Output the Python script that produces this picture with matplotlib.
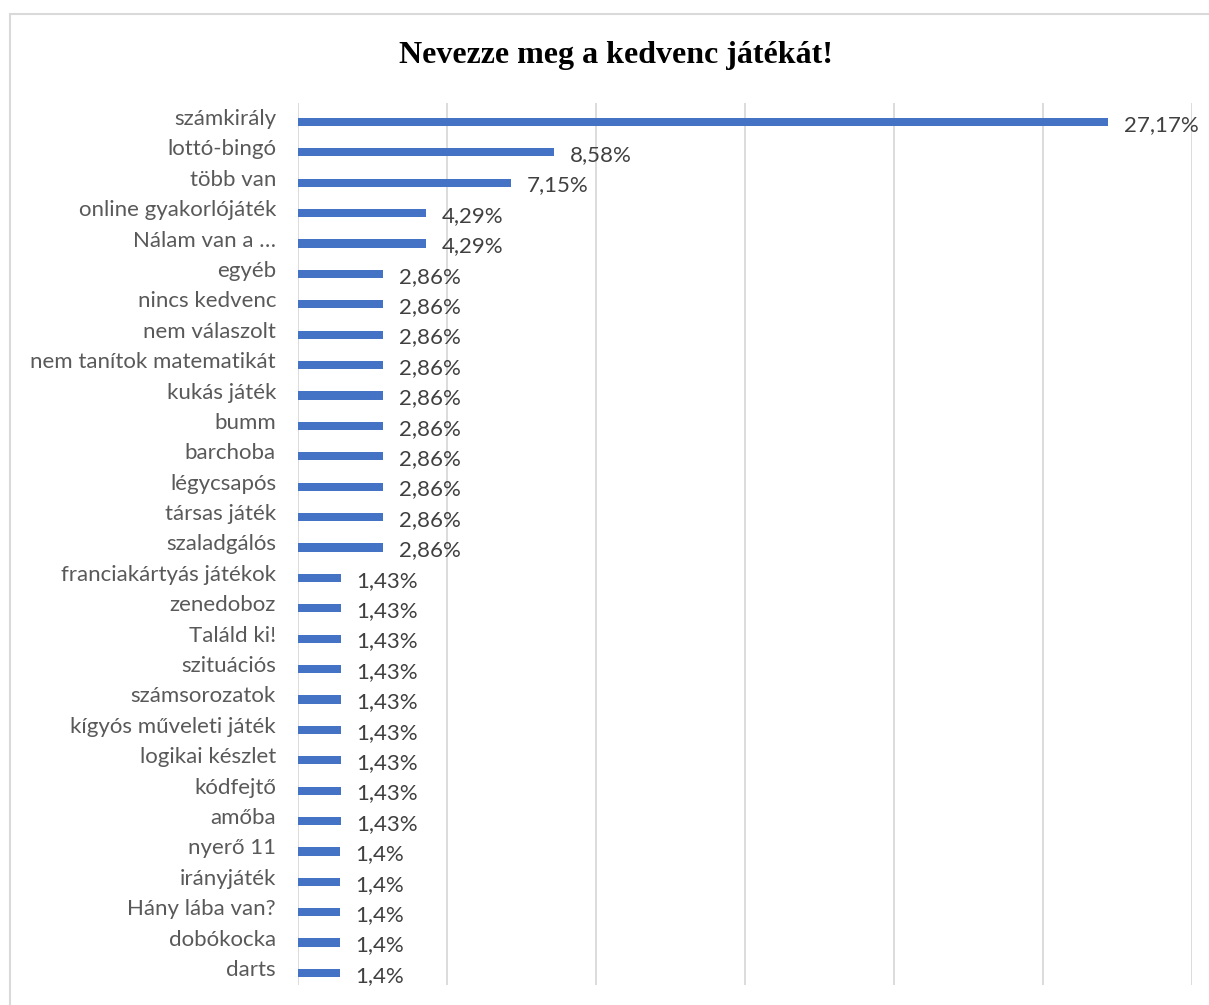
import matplotlib
matplotlib.use("Agg")
import matplotlib.pyplot as plt
from matplotlib.patches import Rectangle
from matplotlib.transforms import offset_copy

categories = ["számkirály", "lottó-bingó", "több van", "online gyakorlójáték",
              "Nálam van a …", "egyéb", "nincs kedvenc", "nem válaszolt",
              "nem tanítok matematikát", "kukás játék", "bumm", "barchoba",
              "légycsapós", "társas játék", "szaladgálós", "franciakártyás játékok",
              "zenedoboz", "Találd ki!", "szituációs", "számsorozatok",
              "kígyós műveleti játék", "logikai készlet", "kódfejtő", "amőba",
              "nyerő 11", "irányjáték", "Hány lába van?", "dobókocka", "darts"]
values = [27.17, 8.58, 7.15, 4.29, 4.29, 2.86, 2.86, 2.86, 2.86, 2.86, 2.86,
          2.86, 2.86, 2.86, 2.86, 1.43, 1.43, 1.43, 1.43, 1.43, 1.43, 1.43,
          1.43, 1.43, 1.4, 1.4, 1.4, 1.4, 1.4]
value_labels = ["27,17%", "8,58%", "7,15%", "4,29%", "4,29%"] + ["2,86%"] * 10 + \
               ["1,43%"] * 9 + ["1,4%"] * 5
title = "Nevezze meg a kedvenc játékát!"

W, H = 1209, 1005
fig = plt.figure(figsize=(W / 100, H / 100), dpi=100)
fig.patches.append(Rectangle((10 / W, -0.1), 1.2, (H - 14) / H + 0.1,
                             transform=fig.transFigure, fill=False,
                             edgecolor="#d9d9d9", linewidth=1.5))

ax = fig.add_axes([298 / W, 20 / H, (1192 - 298) / W, (985 - 103) / H])
n = len(categories)
ys = list(range(n))
ax.barh(ys, values, height=0.27, color="#4472c4")
ax.set_xlim(0, 30)
ax.set_ylim(n - 1 + 0.395, -0.625)
ax.set_xticks([0, 5, 10, 15, 20, 25, 30])
ax.set_xticklabels([])
ax.tick_params(axis="x", length=0)
ax.set_yticks([])
ax.grid(axis="x", color="#d9d9d9", linewidth=1.3)
ax.set_axisbelow(True)
for s in ax.spines.values():
    s.set_visible(False)

lab_tr = offset_copy(ax.get_yaxis_transform(), fig=fig, x=-22, y=3, units="dots")
for y, c in zip(ys, categories):
    ax.text(0, y, c, transform=lab_tr, ha="right", va="center", fontsize=16,
            color="#595959", family="Lato")

for y, v, t in zip(ys, values, value_labels):
    ax.annotate(t, xy=(v, y), xytext=(11.5, -2), textcoords="offset points",
                va="center", ha="left", fontsize=16, color="#404040", family="Lato")

fig.text(616 / W, 1 - 55 / H, title, ha="center", va="center", fontsize=23,
         fontweight="bold", family="Liberation Serif", color="black")

fig.savefig("out.png", dpi=100, facecolor="white")
